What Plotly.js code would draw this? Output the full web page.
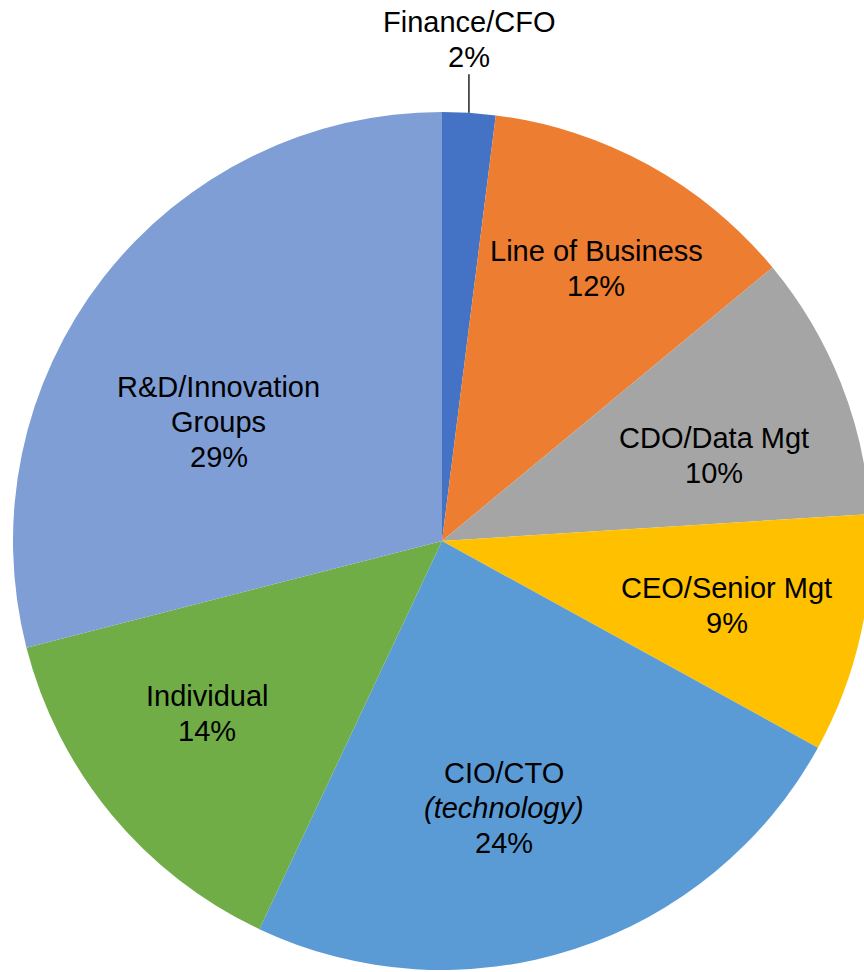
<!DOCTYPE html>
<html>
<head>
<meta charset="utf-8">
<script src="https://cdn.plot.ly/plotly-3.0.1.min.js"></script>
<style>
html, body { margin: 0; padding: 0; overflow: hidden; background: #fff; }
#chart { width: 880px; height: 972px; }
</style>
</head>
<body>
<div id="chart"></div>
<script>
// ---- data ----
const labels = ["Finance/CFO", "Line of Business", "CDO/Data Mgt", "CEO/Senior Mgt", "CIO/CTO", "Individual", "R&D/Innovation Groups"];
const labelLines = [["Finance/CFO"], ["Line of Business"], ["CDO/Data Mgt"], ["CEO/Senior Mgt"], ["CIO/CTO", "<i>(technology)</i>"], ["Individual"], ["R&D/Innovation", "Groups"]];
const values = [2, 12, 10, 9, 24, 14, 29];
const colors = ["#4472C4", "#ED7D31", "#A5A5A5", "#FFC000", "#5B9BD5", "#70AD47", "#7F9ED5"];

// ---- label placement style (radius fraction, angle nudge in degrees) ----
const labelRadius = [1.0, 0.730, 0.665, 0.681, 0.639, 0.679, 0.590];
const labelAngleNudge = [0, 0.7, 4.1, 0.15, 4.9, 3.3, -9.8];

const FONT = "Liberation Sans, Arial, sans-serif";
const FSIZE = 29;
const LINE = 35;

const total = values.reduce((a, b) => a + b, 0);
const pct = values.map(v => Math.round(v / total * 100) + "%");

const annotations = [];
let cum = 0;
values.forEach((v, i) => {
  const midDeg = (cum + v / 2) / total * 360;
  cum += v;
  const a = (midDeg + labelAngleNudge[i]) * Math.PI / 180;
  const r = 0.5 * labelRadius[i];
  const x = 0.5 + r * Math.sin(a);
  const y = 0.5 + r * Math.cos(a);
  const lines = labelLines[i].concat([pct[i]]);
  const base = { xref: "paper", yref: "paper", x: x, y: y, xanchor: "center", yanchor: "middle",
                 showarrow: false, font: { family: FONT, size: FSIZE, color: "#000" } };
  if (i === 0) {
    // outside label with a vertical leader line
    annotations.push(Object.assign({}, base, {
      text: lines[1], showarrow: true, arrowhead: 0, arrowwidth: 1.3, arrowcolor: "#000",
      ax: 0, ay: -56, standoff: 0
    }));
    annotations.push(Object.assign({}, base, { text: lines[0], yshift: 56 + LINE }));
  } else {
    const n = lines.length;
    lines.forEach((t, k) => {
      annotations.push(Object.assign({}, base, { text: t, yshift: ((n - 1) / 2 - k) * LINE }));
    });
  }
});

const data = [{
  type: "pie",
  labels: labels,
  values: values,
  textinfo: "none",
  marker: { colors: colors, line: { width: 0 } },
  sort: false,
  direction: "clockwise",
  rotation: 0,
  hoverinfo: "label+percent",
  showlegend: false
}];

const layout = {
  width: 880, height: 972,
  margin: { l: 13, r: 9, t: 112, b: 2 },
  paper_bgcolor: "#fff",
  showlegend: false,
  annotations: annotations,
  font: { family: FONT }
};

Plotly.newPlot("chart", data, layout, { displayModeBar: false, staticPlot: true });
</script>
</body>
</html>
